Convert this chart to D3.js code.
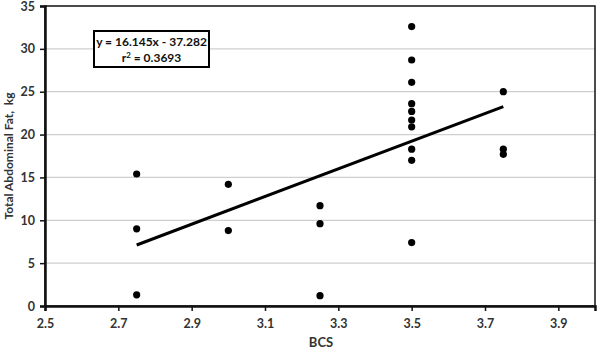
<!DOCTYPE html>
<html>
<head>
<meta charset="utf-8">
<script src="https://cdn.jsdelivr.net/npm/d3@7"></script>
<style>
  body { margin: 0; background: #fff; }
  text { font-family: Lato, "Open Sans", sans-serif; font-weight: bold; }
</style>
</head>
<body>
<div id="chart"></div>
<script>
// data
const bcs = [2.75, 2.75, 2.75, 3.0, 3.0, 3.25, 3.25, 3.25,
  3.5, 3.5, 3.5, 3.5, 3.5, 3.5, 3.5, 3.5, 3.5, 3.5,
  3.75, 3.75, 3.75]
const fat = [15.4, 9.0, 1.3, 14.2, 8.8, 11.7, 9.6, 1.2,
  32.6, 28.7, 26.1, 23.6, 22.7, 21.7, 20.9, 18.3, 17.0, 7.4,
  25.0, 18.3, 17.7]
const xTicks = [2.5, 2.7, 2.9, 3.1, 3.3, 3.5, 3.7, 3.9]
const yTicks = [0, 5, 10, 15, 20, 25, 30, 35]
const slope = 16.145
const intercept = -37.282
const rSquared = 0.3693

const width = 600
const height = 351
const margin = {top: 6, right: 5, bottom: 45, left: 45}

const svg = d3.create('svg')
  .attr('width', width)
  .attr('height', height)

document.getElementById('chart').appendChild(svg.node())

const x = d3.scaleLinear()
  .domain([2.5, 4.0])
  .range([margin.left, width - margin.right])

const y = d3.scaleLinear()
  .domain([0, 35])
  .range([height - margin.bottom, margin.top])

// gridlines
svg.append('g')
  .selectAll('line')
  .data(yTicks.filter(d => d > 0 && d < 35))
  .join('line')
    .attr('x1', x(2.5))
    .attr('x2', x(4.0))
    .attr('y1', d => y(d))
    .attr('y2', d => y(d))
    .attr('stroke', '#cfcfcf')
    .attr('stroke-width', 1.2)

// plot frame
svg.append('rect')
  .attr('x', x(2.5))
  .attr('y', y(35))
  .attr('width', x(4.0) - x(2.5))
  .attr('height', y(0) - y(35))
  .attr('fill', 'none')
  .attr('stroke', '#111')
  .attr('stroke-width', 1.5)

// axes
const xAxis = svg.append('g')
  .attr('transform', `translate(0,${y(0)})`)
  .call(d3.axisBottom(x).tickValues(xTicks).tickFormat(d3.format('.1f')).tickSize(5).tickPadding(8))
xAxis.select('.domain').attr('stroke', '#111').attr('stroke-width', 2.5)

const yAxis = svg.append('g')
  .attr('transform', `translate(${x(2.5)},0)`)
  .call(d3.axisLeft(y).tickValues(yTicks).tickSize(5).tickPadding(5))
yAxis.select('.domain').attr('stroke', '#111').attr('stroke-width', 2.5)

svg.selectAll('.tick line').attr('stroke', '#111').attr('stroke-width', 1.5)
svg.selectAll('.tick text')
  .attr('font-size', 12.5)
  .attr('font-family', 'Lato, sans-serif')
  .attr('font-weight', 'bold')
  .attr('fill', '#333')

// axis titles
svg.append('text')
  .attr('x', 321)
  .attr('y', 347)
  .attr('text-anchor', 'middle')
  .attr('font-size', 13)
  .attr('fill', '#333')
  .text('BCS')

svg.append('text')
  .attr('transform', `translate(13,${(y(0) + y(35)) / 2}) rotate(-90)`)
  .attr('text-anchor', 'middle')
  .attr('font-size', 12)
  .attr('fill', '#333')
  .style('white-space', 'pre')
  .text('Total Abdominal Fat,  kg')

// trend line
const xMin = d3.min(bcs)
const xMax = d3.max(bcs)
svg.append('line')
  .attr('x1', x(xMin))
  .attr('y1', y(slope * xMin + intercept))
  .attr('x2', x(xMax))
  .attr('y2', y(slope * xMax + intercept))
  .attr('stroke', '#000')
  .attr('stroke-width', 3)

// points
svg.append('g')
  .selectAll('circle')
  .data(d3.zip(bcs, fat))
  .join('circle')
    .attr('cx', d => x(d[0]))
    .attr('cy', d => y(d[1]))
    .attr('r', 3.6)
    .attr('fill', '#000')

// equation box
const box = svg.append('g')
box.append('rect')
  .attr('x', 94)
  .attr('y', 31)
  .attr('width', 115)
  .attr('height', 36)
  .attr('fill', '#fff')
  .attr('stroke', '#000')
  .attr('stroke-width', 2)
box.append('text')
  .attr('x', 151.5)
  .attr('y', 46)
  .attr('text-anchor', 'middle')
  .attr('font-size', 12)
  .attr('fill', '#111')
  .text(`y = ${slope}x - ${-intercept}`)
box.append('text')
  .attr('x', 151.5)
  .attr('y', 62)
  .attr('text-anchor', 'middle')
  .attr('font-size', 12)
  .attr('fill', '#111')
  .html(`r<tspan dy="-4" font-size="8">2</tspan><tspan dy="4"> = ${rSquared}</tspan>`)
</script>
</body>
</html>
